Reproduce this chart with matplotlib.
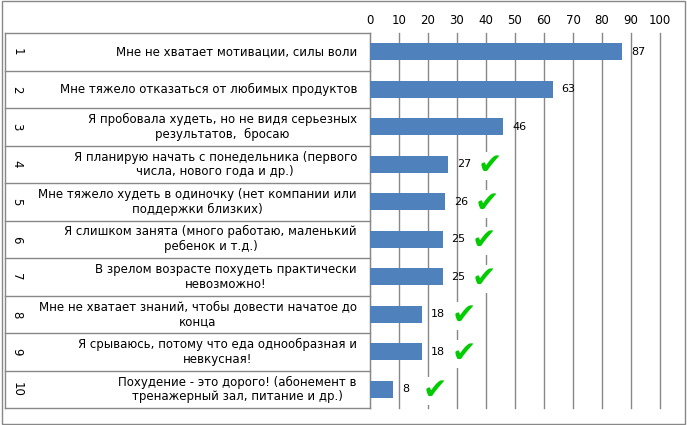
import matplotlib
matplotlib.use("Agg")
import matplotlib.pyplot as plt
from matplotlib.patches import Rectangle
from matplotlib.lines import Line2D

numbers = [str(i) for i in range(1, 11)]
labels = [
    "Мне не хватает мотивации, силы воли",
    "Мне тяжело отказаться от любимых продуктов",
    "Я пробовала худеть, но не видя серьезных\nрезультатов,  бросаю",
    "Я планирую начать с понедельника (первого\nчисла, нового года и др.)",
    "Мне тяжело худеть в одиночку (нет компании или\nподдержки близких)",
    "Я слишком занята (много работаю, маленький\nребенок и т.д.)",
    "В зрелом возрасте похудеть практически\nневозможно!",
    "Мне не хватает знаний, чтобы довести начатое до\nконца",
    "Я срываюсь, потому что еда однообразная и\nневкусная!",
    "Похудение - это дорого! (абонемент в\nтренажерный зал, питание и др.)",
]
values = [87, 63, 46, 27, 26, 25, 25, 18, 18, 8]
checked = [False, False, False, True, True, True, True, True, True, True]

plt.rcParams['font.family'] = ['DejaVu Sans']
W, H = 687, 425
fig = plt.figure(figsize=(W/100, H/100), dpi=100)
fig.patches.append(Rectangle((0.003, 0.003), 0.994, 0.994, transform=fig.transFigure,
                             fill=False, edgecolor='#888888', lw=1))
top_px, bot_px, left_px, right_px = 33, 408, 370, 660
ax = fig.add_axes([left_px/W, 1-bot_px/H, (right_px-left_px)/W, (bot_px-top_px)/H])
n = len(values)
ys = list(range(n))
ax.barh(ys, values, height=0.45, color='#4f81bd', zorder=3)
ax.set_ylim(n-0.5, -0.5)
ax.set_xlim(0, 100)
ax.set_xticks(range(0, 101, 10))
ax.xaxis.tick_top()
ax.tick_params(axis='x', length=0, labelsize=8.5, pad=4)
ax.set_yticks([])
ax.grid(axis='x', color='#888888', lw=1, zorder=0)
for gl in ax.get_xgridlines():
    gl.set_clip_on(False)
for s in ['top', 'right', 'bottom']:
    ax.spines[s].set_visible(False)
ax.spines['left'].set_color('#888888')
for y, v, c in zip(ys, values, checked):
    ax.text(v+3, y, str(v), va='center', ha='left', fontsize=8, zorder=4)
    if c:
        ax.text(v+10, y+0.05, "✔", va='center', ha='left', fontsize=21,
                color='#00cc00', zorder=5,
                bbox=dict(facecolor='white', edgecolor='none', pad=0))

# left table
row_h = (bot_px-top_px)/n
for i in range(n+1):
    yp = 1-(top_px+i*row_h)/H
    fig.add_artist(Line2D([5/W, left_px/W], [yp, yp], color='#888888', lw=1))
fig.add_artist(Line2D([5/W, 5/W], [1-top_px/H, 1-bot_px/H], color='#888888', lw=1))
for i in range(n):
    yc = 1-(top_px+(i+0.5)*row_h)/H
    fig.text(17/W, yc, numbers[i], rotation=-90, ha='center', va='center', fontsize=8.5)
    fig.text(357/W, yc, labels[i], ha='right', va='center', fontsize=8.5,
             multialignment='center', linespacing=1.15)
fig.savefig("out.png", dpi=100)
